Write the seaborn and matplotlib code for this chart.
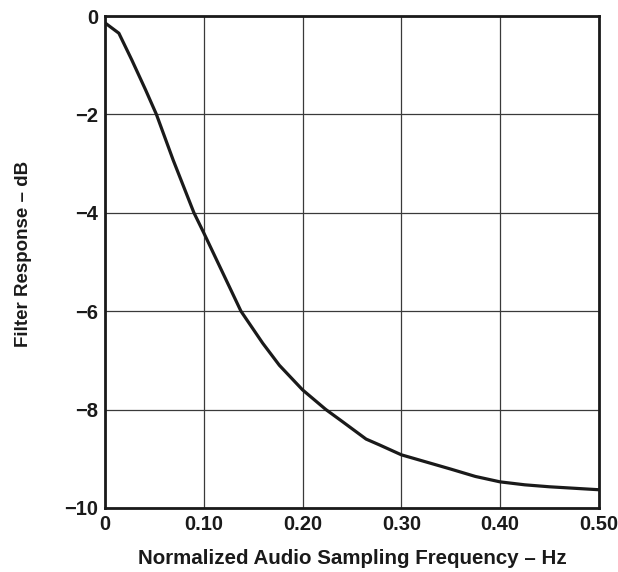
import matplotlib
matplotlib.use('Agg')
import matplotlib.pyplot as plt
import pandas as pd
import seaborn as sns

# Curve values
freq = [0.0, 0.014, 0.027, 0.041, 0.052, 0.069, 0.090, 0.10, 0.1376, 0.1596, 0.1765, 0.20,
        0.2236, 0.24, 0.2643, 0.278, 0.30, 0.35, 0.375, 0.40, 0.425, 0.45, 0.50]
resp = [-0.14, -0.35, -0.89, -1.5, -2.0, -2.93, -4.0, -4.41, -6.0, -6.65, -7.1, -7.6,
        -8.0, -8.24, -8.6, -8.72, -8.92, -9.21, -9.36, -9.47, -9.53, -9.57, -9.63]
xticks = [0, 0.1, 0.2, 0.3, 0.4, 0.5]
xtick_labels = ['0', '0.10', '0.20', '0.30', '0.40', '0.50']
yticks = [0, -2, -4, -6, -8, -10]
ytick_labels = ['0', '\u22122', '\u22124', '\u22126', '\u22128', '\u221210']

df = pd.DataFrame({'freq': freq, 'resp': resp})

sns.set_style('white')
plt.rcParams['font.family'] = ['Liberation Sans', 'DejaVu Sans']

fig = plt.figure(figsize=(6.18, 5.72), dpi=100)
ax = fig.add_axes([0.1700, 0.112, 0.7990, 0.860])
sns.lineplot(data=df, x='freq', y='resp', ax=ax, color='#1a1a1a', linewidth=2.3)

ax.set_xlim(0, 0.5)
ax.set_ylim(-10, 0)
ax.set_xticks(xticks)
ax.set_xticklabels(xtick_labels)
ax.set_yticks(yticks)
ax.set_yticklabels(ytick_labels)
ax.tick_params(length=0, labelsize=14.5, pad=5)
for lab in ax.get_xticklabels() + ax.get_yticklabels():
    lab.set_fontweight('bold')
    lab.set_color('#1a1a1a')
ax.grid(True, color='#3a3a3a', linewidth=0.9)
for s in ax.spines.values():
    s.set_color('#1a1a1a')
    s.set_linewidth(2)
ax.set_xlabel('Normalized Audio Sampling Frequency \u2013 Hz', fontsize=14.8,
              fontweight='bold', color='#1a1a1a', labelpad=11)
ax.set_ylabel('Filter Response \u2013 dB', fontsize=13.5, fontweight='bold', color='#1a1a1a')
ax.yaxis.set_label_coords(-0.148, 0.516)

fig.savefig('out.png', dpi=100)
